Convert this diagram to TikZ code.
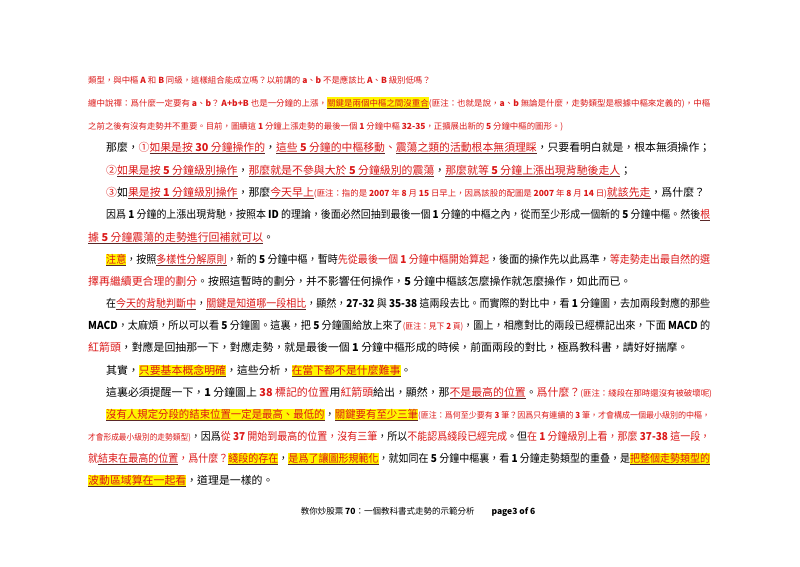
\documentclass[tikz,border=0pt]{standalone}
\usepackage{fontspec}
\usepackage{graphicx}
\setmainfont{Noto Sans CJK TC}
\definecolor{rd}{RGB}{220,25,25}
\definecolor{ulc}{RGB}{90,40,40}
\definecolor{hly}{RGB}{255,245,0}
\newcommand\red[1]{{\color{rd}#1}}
\newcommand\sm{\fontsize{8.4}{10}\selectfont}
\newcommand\fitw[2]{\resizebox{#1pt}{\height}{#2}}
\newcommand\myul[1]{\setbox0\hbox{#1}\rlap{\color{ulc}\rule[-2.2pt]{\wd0}{0.7pt}}\box0}
\newcommand\myhl[1]{\setbox0\hbox{#1}\rlap{\color{hly}\rule[-2.8pt]{\wd0}{12.2pt}}\rlap{\color{ulc}\rule[-2.2pt]{\wd0}{0.7pt}}\box0}
\begin{document}
\begin{tikzpicture}[x=1pt,y=-1pt,
  L/.style={anchor=base west,inner sep=0pt,font=\fontsize{10.9}{12}\selectfont},
  S/.style={anchor=base west,inner sep=0pt,font=\sm,text=rd}]
\useasboundingbox (0,0) rectangle (800,566);
\fill[white] (0,0) rectangle (800,566);
\node[S] (s1) at (88,83) {類型，與中樞 \textbf{A} 和 \textbf{B} 同級，這樣組合能成立嗎？以前講的 \textbf{a}、\textbf{b} 不是應該比 \textbf{A}、\textbf{B} 級別低嗎？};
\node[S] (s2) at (88,106) {\fitw{622}{纏中說禪：爲什麼一定要有 \textbf{a}、\textbf{b}？ \textbf{A+b+B} 也是一分鐘的上漲，\myhl{關鍵是兩個中樞之間沒重合}(匪注：也就是說，\textbf{a}、\textbf{b} 無論是什麼，走勢類型是根據中樞來定義的)，中樞}};
\node[S] (s3) at (88,129) {之前之後有沒有走勢并不重要。目前，圖續這 \textbf{1} 分鐘上漲走勢的最後一個 \textbf{1} 分鐘中樞 \textbf{32-35}，正擴展出新的 \textbf{5} 分鐘中樞的圖形。)};
\node[L] (l1) at (106,151) {\fitw{604}{那麼，\red{①\myul{如果是按 \textbf{30} 分鐘操作的}}，\red{\myul{這些 \textbf{5} 分鐘的中樞移動}、\myul{震蕩之類的活動根本無須理睬}}，只要看明白就是，根本無須操作；}};
\node[L] (l2) at (106,174) {\red{②\myul{如果是按 \textbf{5} 分鐘級別操作}}，\red{\myul{那麼就是不參與大於 \textbf{5} 分鐘級別的震蕩}}，\red{\myul{那麼就等 \textbf{5} 分鐘上漲出現背馳後走人}}；};
\node[L] (l3) at (106,196) {\red{③}如\red{\myul{果是按 \textbf{1} 分鐘級別操作}}，那麼\red{\myul{今天早上}}\red{\sm(匪注：指的是 \textbf{2007} 年 \textbf{8} 月 \textbf{15} 日早上，因爲該股的配圖是 \textbf{2007} 年 \textbf{8} 月 \textbf{14} 日)}\red{\myul{就該先走}}，爲什麼？};
\node[L] (l4) at (106,218) {\fitw{604}{因爲 \textbf{1} 分鐘的上漲出現背馳，按照本 \textbf{ID} 的理論，後面必然回抽到最後一個 \textbf{1} 分鐘的中樞之內，從而至少形成一個新的 \textbf{5} 分鐘中樞。然後\red{\myul{根}}}};
\node[L] (l5) at (88,241) {\red{\myul{據 \textbf{5} 分鐘震蕩的走勢進行回補就可以}}。};
\node[L] (l6) at (106,263) {\fitw{604}{\red{\myhl{注意}}，按照\red{\myul{多樣性分解原則}}，新的 \textbf{5} 分鐘中樞，暫時\red{先從最後一個 \textbf{1} 分鐘中樞開始算起}，後面的操作先以此爲準，\red{等走勢走出最自然的選}}};
\node[L] (l7) at (88,285) {\red{擇再繼續更合理的劃分}。按照這暫時的劃分，并不影響任何操作，\textbf{5} 分鐘中樞該怎麼操作就怎麼操作，如此而已。};
\node[L] (l8) at (106,307) {\fitw{604}{在\red{\myul{今天的背馳判斷中}}，\red{\myul{關鍵是知道哪一段相比}}，顯然，\textbf{27-32} 與 \textbf{35-38} 這兩段去比。而實際的對比中，看 \textbf{1} 分鐘圖，去加兩段對應的那些}};
\node[L] (l9) at (88,329) {\fitw{622}{\textbf{MACD}，太麻煩，所以可以看 \textbf{5} 分鐘圖。這裏，把 \textbf{5} 分鐘圖給放上來了\red{\sm(匪注：見下 \textbf{2} 頁)}，圖上，相應對比的兩段已經標記出來，下面 \textbf{MACD} 的}};
\node[L] (l10) at (88,351) {\red{紅箭頭}，對應是回抽那一下，對應走勢，就是最後一個 \textbf{1} 分鐘中樞形成的時候，前面兩段的對比，極爲教科書，請好好揣摩。};
\node[L] (l11) at (106,374) {其實，\red{\myhl{只要基本概念明確}}，這些分析，\red{\myhl{在當下都不是什麼難事}}。};
\node[L] (l12) at (106,396) {這裏必須提醒一下，\textbf{1} 分鐘圖上 \red{\textbf{38} 標記的位置}用\red{紅箭頭}給出，顯然，那\red{\myul{不是最高的位置}}。\red{爲什麼？}\red{\sm(匪注：綫段在那時還沒有被破壞呢)}};
\node[L] (l13) at (106,418) {\fitw{604}{\red{\myhl{沒有人規定分段的結束位置一定是最高、最低的}}，\red{\myhl{關鍵要有至少三筆}}\red{\sm(匪注：爲何至少要有 \textbf{3} 筆？因爲只有連續的 \textbf{3} 筆，才會構成一個最小級別的中樞，}}};
\node[L] (l14) at (88,440) {\fitw{622}{\red{\sm 才會形成最小級別的走勢類型)}，因爲\red{從 \textbf{37} 開始到最高的位置，沒有三筆}，所以\red{不能認爲綫段已經完成}。但\red{在 \textbf{1} 分鐘級別上看，那麼 \textbf{37-38} 這一段，}}};
\node[L] (l15) at (88,462) {\fitw{622}{\red{就\myul{結束在最高的位置}，爲什麼？}\red{\myhl{綫段的存在}}，\red{\myhl{是爲了讓圖形規範化}}，就如同在 \textbf{5} 分鐘中樞裏，看 \textbf{1} 分鐘走勢類型的重叠，是\red{\myhl{把整個走勢類型的}}}};
\node[L] (l16) at (88,484) {\red{\myhl{波動區域算在一起看}}，道理是一樣的。};
\node[anchor=base,inner sep=0pt,font=\fontsize{8.5}{10}\selectfont] (ft) at (418,514) {教你炒股票 \textbf{70}：一個教科書式走勢的示範分析\hspace{2em}\textbf{page3 of 6}};
\end{tikzpicture}
\end{document}
